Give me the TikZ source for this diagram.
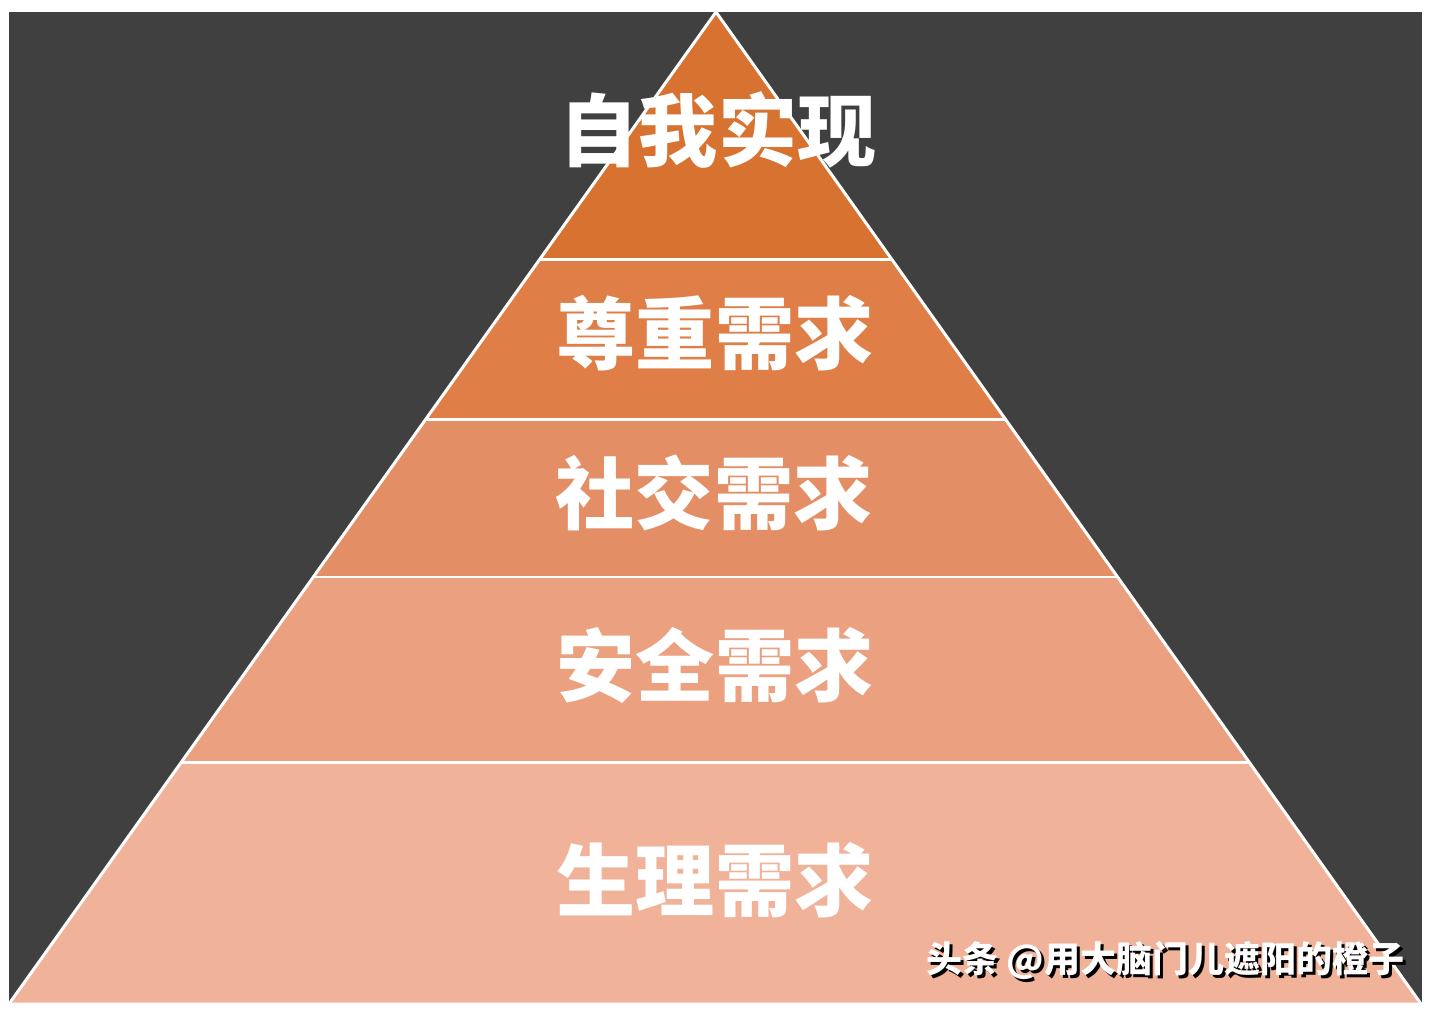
\documentclass[tikz,border=0pt]{standalone}
\usepackage{fontspec}
\usetikzlibrary{calc}
\newfontfamily\cjk{Noto Sans CJK SC}
\definecolor{bgdark}{HTML}{404040}
\definecolor{lay1}{HTML}{D77230}
\definecolor{lay2}{HTML}{DF7F47}
\definecolor{lay3}{HTML}{E48E66}
\definecolor{lay4}{HTML}{EBA07F}
\definecolor{lay5}{HTML}{F1B29A}
\tikzset{
  sep/.style={draw=white, line width=1.7pt},
  label/.style={text=white, font=\cjk\bfseries\fontsize{45}{48}\selectfont, inner sep=0pt},
  wm/.style={font=\cjk\bfseries\fontsize{20.5}{24}\selectfont, inner sep=0pt, anchor=east},
}
\begin{document}
\begin{tikzpicture}[x=0.02cm, y=-0.02cm]
\useasboundingbox (0,0) rectangle (1435,1009);
\fill[white] (0,0) rectangle (1435,1009);
\fill[bgdark] (9,12) rectangle (1422,1002);
\coordinate (A) at (716,12);
\coordinate (BL) at (10,1002.5);
\coordinate (BR) at (1420,1002.5);
\coordinate (L1) at ($(A)!0.2494!(BL)$);
\coordinate (R1) at ($(A)!0.2494!(BR)$);
\coordinate (L2) at ($(A)!0.4109!(BL)$);
\coordinate (R2) at ($(A)!0.4109!(BR)$);
\coordinate (L3) at ($(A)!0.5704!(BL)$);
\coordinate (R3) at ($(A)!0.5704!(BR)$);
\coordinate (L4) at ($(A)!0.7581!(BL)$);
\coordinate (R4) at ($(A)!0.7581!(BR)$);
\fill[lay1] (A) -- (R1) -- (L1) -- cycle;
\fill[lay2] (L1) -- (R1) -- (R2) -- (L2) -- cycle;
\fill[lay3] (L2) -- (R2) -- (R3) -- (L3) -- cycle;
\fill[lay4] (L3) -- (R3) -- (R4) -- (L4) -- cycle;
\fill[lay5] (L4) -- (R4) -- (BR) -- (BL) -- cycle;
\draw[sep] (L1) -- (R1);
\draw[sep] (L2) -- (R2);
\draw[sep] (L3) -- (R3);
\draw[sep] (L4) -- (R4);
\draw[sep, line join=miter] (BL) -- (A) -- (BR);
\node[label] (t1) at (718,130) {自我实现};
\node[label] (t2) at (715,333) {尊重需求};
\node[label] (t3) at (714,493) {社交需求};
\node[label] (t4) at (715,665) {安全需求};
\node[label] (t5) at (715,880) {生理需求};
\node[wm, text=black] (wms) at (1408,963) {头条 @用大脑门儿遮阳的橙子};
\node[wm, text=white] (wmt) at (1405,960) {头条 @用大脑门儿遮阳的橙子};
\end{tikzpicture}
\end{document}
